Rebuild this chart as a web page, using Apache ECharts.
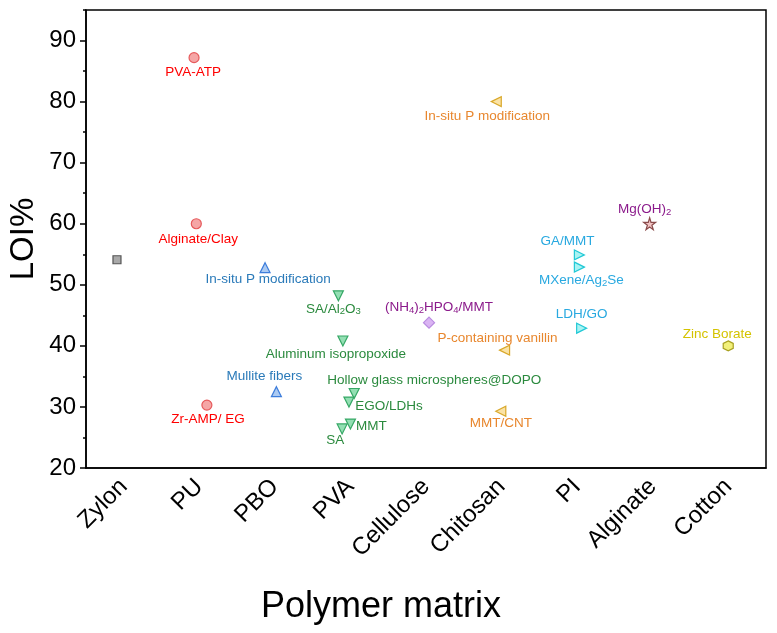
<!DOCTYPE html>
<html>
<head>
<meta charset="utf-8">
<script src="https://cdn.jsdelivr.net/npm/echarts@6/dist/echarts.min.js"></script>
<style>
  html, body { margin: 0; padding: 0; background: #fff; }
  #main { width: 777px; height: 633px; }
</style>
</head>
<body>
<div id="main"></div>
<script>
// polymer matrices on the x axis
const categories = ['Zylon', 'PU', 'PBO', 'PVA', 'Cellulose', 'Chitosan', 'PI', 'Alginate', 'Cotton'];
const yTickLabels = [20, 30, 40, 50, 60, 70, 80, 90];

// x is the category position (Zylon = 1), points sit a bit off the tick in the original
const zylonNames = [''];
const zylonX = [0.91];
const zylonY = [54.1];

const puNames = ['PVA-ATP', 'Alginate/Clay', 'Zr-AMP/ EG'];
const puX = [1.93, 1.96, 2.10];
const puY = [87.2, 60.0, 30.3];

const pboNames = ['In-situ P modification', 'Mullite fibers'];
const pboX = [2.87, 3.02];
const pboY = [52.8, 32.5];

const pvaNames = ['SA/Al{s|2}O{s|3}', 'Aluminum isopropoxide', 'Hollow glass microspheres@DOPO', 'EGO/LDHs', 'MMT', 'SA'];
const pvaX = [3.84, 3.90, 4.05, 3.98, 4.00, 3.89];
const pvaY = [48.2, 40.8, 32.2, 30.8, 27.2, 26.4];

const celluloseNames = ['(NH{s|4}){s|2}HPO{s|4}/MMT'];
const celluloseX = [5.04];
const celluloseY = [43.8];

const chitosanNames = ['In-situ P modification', 'P-containing vanillin', 'MMT/CNT'];
const chitosanX = [5.93, 6.04, 5.99];
const chitosanY = [80.0, 39.3, 29.3];

const piNames = ['GA/MMT', 'MXene/Ag{s|2}Se', 'LDH/GO'];
const piX = [7.03, 7.03, 7.06];
const piY = [54.9, 52.9, 42.9];

const alginateNames = ['Mg(OH){s|2}'];
const alginateX = [7.96];
const alginateY = [60.0];

const cottonNames = ['Zinc Borate'];
const cottonX = [9.0];
const cottonY = [40.0];

// label placement (pixels from the marker), kept apart from the data
const labelOffsets = {
  zylon: [[0, 0]],
  pu: [[-1, 15], [2, 16], [1, 14]],
  pbo: [[3, 12], [-12, -15]],
  pva: [[-5, 13], [-7, 13], [80, -13], [40, 4], [21, 2], [-7, 11]],
  cellulose: [[10, -15]],
  chitosan: [[-9, 15], [-7, -12], [0, 12]],
  pi: [[-12, -14], [2, 13], [0, -14]],
  alginate: [[-5, -14]],
  cotton: [[-11, -12]],
};

const FONT = "'Liberation Sans', Arial, sans-serif";
const starPath = 'path://M50,0 L61,35 L98,35 L68,57 L79,91 L50,70 L21,91 L32,57 L2,35 L39,35 Z';
const hexPath = 'path://M50,0 L93,25 L93,75 L50,100 L7,75 L7,25 Z';

const makeSeries = (key, names, xs, ys, style) => {
  const data = names.map((n, i) => ({
    name: n,
    value: [xs[i], ys[i]],
    label: { offset: labelOffsets[key][i] },
  }));
  return {
    type: 'scatter',
    xAxisIndex: 1,
    yAxisIndex: 0,
    symbol: style.symbol,
    symbolSize: style.size || 10,
    symbolRotate: style.rotate || 0,
    itemStyle: { color: style.fill, borderColor: style.border, borderWidth: 1.2, opacity: 1 },
    label: {
      show: true,
      position: 'inside',
      formatter: '{b}',
      color: style.text,
      fontSize: 13.5,
      fontFamily: FONT,
      rich: {
        s: { fontSize: 9.5, color: style.text, fontFamily: FONT, padding: [6, 0, 0, 0] },
      },
    },
    emphasis: { disabled: true },
    data,
  };
};

const series = [
  makeSeries('zylon', zylonNames, zylonX, zylonY, { symbol: 'rect', size: 8, fill: '#a9a9a9', border: '#555555', text: '#000' }),
  makeSeries('pu', puNames, puX, puY, { symbol: 'circle', fill: '#f5a6a6', border: '#e65a5c', text: '#ff0000' }),
  makeSeries('pbo', pboNames, pboX, pboY, { symbol: 'triangle', fill: '#abcaf2', border: '#3d7ddb', text: '#2a7ab9' }),
  makeSeries('pva', pvaNames, pvaX, pvaY, { symbol: 'triangle', rotate: 180, fill: '#93dfb3', border: '#36a866', text: '#2b8a3e' }),
  makeSeries('cellulose', celluloseNames, celluloseX, celluloseY, { symbol: 'diamond', size: 11, fill: '#dab4f3', border: '#b98be0', text: '#8b1a8b' }),
  makeSeries('chitosan', chitosanNames, chitosanX, chitosanY, { symbol: 'triangle', rotate: 90, fill: '#fbe3a6', border: '#d9a82a', text: '#e8872e' }),
  makeSeries('pi', piNames, piX, piY, { symbol: 'triangle', rotate: -90, fill: '#a9f3f3', border: '#22c9d6', text: '#29a9e0' }),
  makeSeries('alginate', alginateNames, alginateX, alginateY, { symbol: starPath, size: 12, fill: '#f2c4c4', border: '#8a4b4b', text: '#8b1a8b' }),
  makeSeries('cotton', cottonNames, cottonX, cottonY, { symbol: hexPath, size: 10, fill: '#f2f07a', border: '#a8a020', text: '#d4c300' }),
];

const myChart = echarts.init(document.getElementById('main'));

const option = {
  animation: false,
  backgroundColor: '#fff',
  grid: {
    left: 86,
    right: 11,
    top: 10,
    bottom: 165,
    containLabel: false,
    outerBoundsMode: 'none',
    show: true,
    borderColor: '#000',
    borderWidth: 1.5,
    backgroundColor: 'transparent',
  },
  xAxis: [
    {
      type: 'category',
      data: categories,
      boundaryGap: true,
      axisLine: { lineStyle: { color: '#000', width: 1.5 } },
      axisTick: { alignWithLabel: true, length: 5, lineStyle: { color: '#000', width: 1.5 } },
      axisLabel: { rotate: 45, fontSize: 24, color: '#000', margin: 15, fontFamily: FONT },
      splitLine: { show: false },
      name: 'Polymer matrix',
      nameLocation: 'middle',
      nameGap: 121,
      nameMoveOverlap: false,
      nameTextStyle: { fontSize: 36, color: '#000', fontFamily: FONT, padding: [0, 90, 0, 0] },
    },
    {
      type: 'value',
      min: 0.5,
      max: 9.5,
      show: false,
    },
  ],
  yAxis: [
    {
      type: 'value',
      min: 20,
      max: 95,
      interval: 5,
      axisLine: { show: true, lineStyle: { color: '#000', width: 1.5 } },
      axisTick: { length: 3, lineStyle: { color: '#000', width: 1.5 } },
      axisLabel: { customValues: yTickLabels, fontSize: 24, color: '#000', margin: 10, fontFamily: FONT },
      splitLine: { show: false },
      name: 'LOI%',
      nameLocation: 'middle',
      nameGap: 46,
      nameMoveOverlap: false,
      nameTextStyle: { fontSize: 33, color: '#000', fontFamily: FONT },
    },
    {
      type: 'value',
      min: 20,
      max: 95,
      interval: 10,
      position: 'left',
      axisLine: { show: false },
      axisTick: { show: true, customValues: yTickLabels, length: 6, lineStyle: { color: '#000', width: 1.5 } },
      axisLabel: { show: false },
      splitLine: { show: false },
    },
  ],
  series,
};

myChart.setOption(option);
</script>
</body>
</html>
